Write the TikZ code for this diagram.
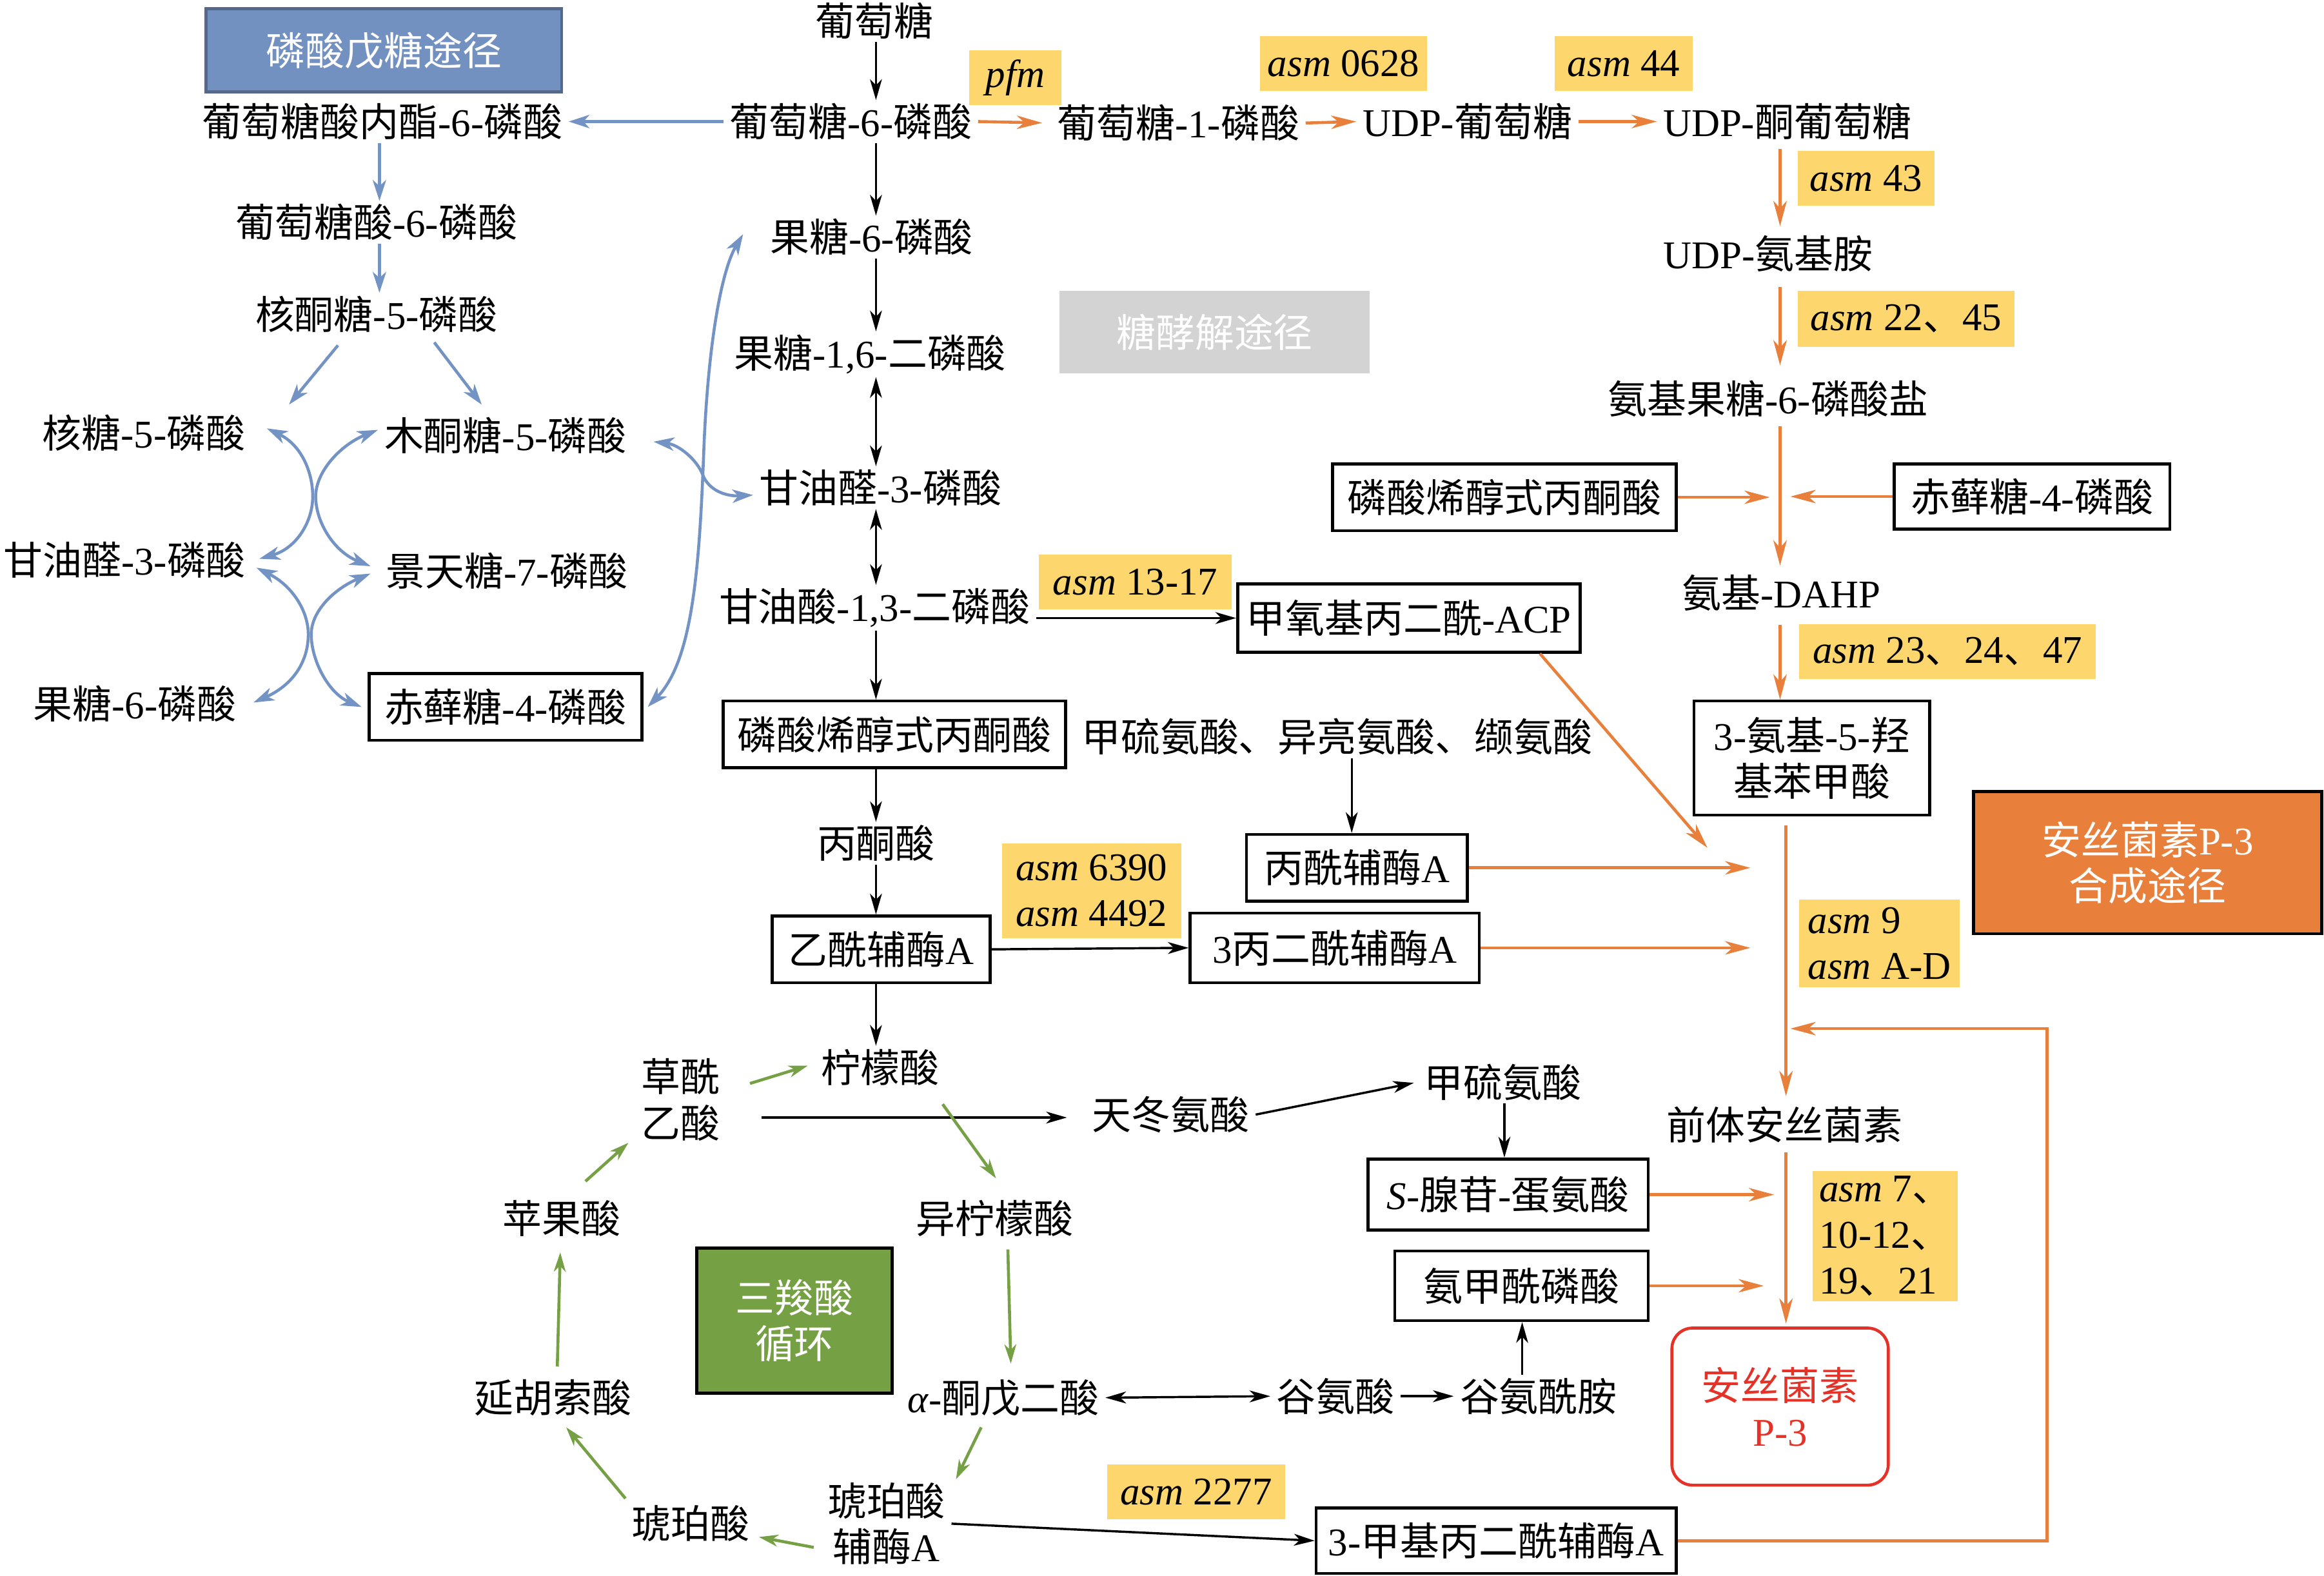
\documentclass[tikz,border=0pt]{standalone}
\usepackage{fontspec}
\setmainfont{Liberation Serif}
\newfontfamily\cjkfont{Noto Sans CJK SC}
\usetikzlibrary{arrows.meta,calc}
\newcount\cjkcnt
\XeTeXinterchartokenstate=1
\newXeTeXintercharclass\CJKcls
\cjkcnt="3000
\loop\XeTeXcharclass\cjkcnt=\CJKcls\relax\ifnum\cjkcnt<"303F\advance\cjkcnt by 1\repeat
\cjkcnt="4E00
\loop\XeTeXcharclass\cjkcnt=\CJKcls\relax\ifnum\cjkcnt<"9FFF\advance\cjkcnt by 1\repeat
\cjkcnt="FF00
\loop\XeTeXcharclass\cjkcnt=\CJKcls\relax\ifnum\cjkcnt<"FFEF\advance\cjkcnt by 1\repeat
\XeTeXinterchartoks 0 \CJKcls = {\cjkfont}
\XeTeXinterchartoks 4095 \CJKcls = {\cjkfont}
\XeTeXinterchartoks \CJKcls 0 = {\rmfamily}
\XeTeXinterchartoks \CJKcls 4095 = {\rmfamily}
\definecolor{bluC}{HTML}{7393C4}
\definecolor{bluF}{HTML}{7391C0}
\definecolor{bluD}{HTML}{56688A}
\definecolor{orgC}{HTML}{E8803C}
\definecolor{labY}{HTML}{FDD66E}
\definecolor{grnC}{HTML}{76A044}
\definecolor{grayF}{HTML}{D3D3D3}
\definecolor{redC}{HTML}{E53228}
\begin{document}
\begin{tikzpicture}[x=1pt,y=-1pt,
  every node/.style={font=\fontsize{26.5}{31}\selectfont},
  txt/.style={inner xsep=4pt,inner ysep=2pt},
  bx/.style={draw,line width=2pt,inner sep=0pt},
  lab/.style={fill=labY,inner sep=0pt},
  ttl/.style={inner sep=0pt,text=white},
  ba/.style={->,>={Stealth[length=14pt,width=8pt,inset=4pt]},line width=1.5pt},
  bda/.style={<->,>={Stealth[length=14pt,width=8pt,inset=4pt]},line width=1.5pt},
  oa/.style={->,>={Stealth[length=17pt,width=9pt,inset=5pt]},line width=2pt,draw=orgC},
  bla/.style={->,>={Stealth[length=14pt,width=9pt,inset=4pt]},line width=2pt,draw=bluC},
  blda/.style={<->,>={Stealth[length=14pt,width=9pt,inset=4pt]},line width=2pt,draw=bluC},
  ga/.style={->,>={Stealth[length=13pt,width=8pt,inset=4pt]},line width=2pt,draw=grnC}
]
\fill[white] (0,0) rectangle (1568,1063);
\useasboundingbox (0,0) rectangle (1568,1063);

% ---------- pentose phosphate ----------
\node[ttl,fill=bluF,draw=bluD,line width=2pt,minimum width=240pt,minimum height=56pt] (ppp) at (259,34) {磷酸戊糖途径};
\node[txt] (glno) at (258,82) {葡萄糖酸内酯-6-磷酸};
\node[txt] (gln6p) at (254,150) {葡萄糖酸-6-磷酸};
\node[txt] (ru5p) at (254,212) {核酮糖-5-磷酸};
\node[txt] (r5p) at (97,292) {核糖-5-磷酸};
\node[txt] (xu5p) at (341,294) {木酮糖-5-磷酸};
\node[txt] (g3pL) at (84,378) {甘油醛-3-磷酸};
\node[txt] (s7p) at (342,385) {景天糖-7-磷酸};
\node[txt] (f6pL) at (91,475) {果糖-6-磷酸};
\node[bx,minimum width=184pt,minimum height=45pt] (e4pL) at (341,477) {赤藓糖-4-磷酸};

% ---------- glycolysis ----------
\node[txt] (glc) at (590,14) {葡萄糖};
\node[txt] (g6p) at (574,82) {葡萄糖-6-磷酸};
\node[txt] (f6p) at (588,160) {果糖-6-磷酸};
\node[txt] (fbp) at (587,239) {果糖-1,6-二磷酸};
\node[txt] (g3p) at (594,329) {甘油醛-3-磷酸};
\node[txt] (bpg) at (590,410) {甘油酸-1,3-二磷酸};
\node[bx,minimum width=231pt,minimum height=45pt] (pepC) at (603.5,495.5) {磷酸烯醇式丙酮酸};
\node[txt] (pyr) at (591,569) {丙酮酸};
\node[bx,minimum width=147pt,minimum height=45pt] (accoa) at (594.5,640.5) {乙酰辅酶A};
\node[ttl,fill=grayF,minimum width=209pt,minimum height=56pt] (glyc) at (819.5,224) {糖酵解途径};

% ---------- middle ----------
\node[bx,minimum width=231pt,minimum height=46pt] (mmacp) at (950.5,417) {甲氧基丙二酰-ACP};
\node[txt] (aa) at (902,497) {甲硫氨酸、异亮氨酸、缬氨酸};
\node[bx,minimum width=149pt,minimum height=45pt] (prcoa) at (915.5,585.5) {丙酰辅酶A};
\node[bx,minimum width=195pt,minimum height=47pt] (malcoa) at (900.5,639.5) {3丙二酰辅酶A};

% ---------- TCA ----------
\node[txt] (cit) at (594,720) {柠檬酸};
\node[txt,align=center] (oaa) at (459,742) {草酰\\乙酸};
\node[txt] (asp) at (790,752) {天冬氨酸};
\node[txt] (met) at (1014,730) {甲硫氨酸};
\node[txt] (icit) at (671,822) {异柠檬酸};
\node[txt] (akg) at (677,943) {\textit{α}-酮戊二酸};
\node[txt] (glu) at (901,942) {谷氨酸};
\node[txt] (gln) at (1038,942) {谷氨酰胺};
\node[txt,align=center] (sucoa) at (598,1028) {琥珀酸\\辅酶A};
\node[txt] (suc) at (466,1028) {琥珀酸};
\node[txt] (fum) at (373,943) {延胡索酸};
\node[txt] (mal) at (379,822) {苹果酸};
\node[ttl,fill=grnC,draw=black,line width=2pt,minimum width=132pt,minimum height=98pt,align=center] (tca) at (536,891) {三羧酸\\循环};
\node[bx,minimum width=189pt,minimum height=48pt] (sam) at (1017.5,806) {\textit{S}-腺苷-蛋氨酸};
\node[bx,minimum width=171pt,minimum height=47pt] (cp) at (1026.5,867.5) {氨甲酰磷酸};
\node[bx,minimum width=243pt,minimum height=44pt] (mmcoa) at (1009.5,1039.5) {3-甲基丙二酰辅酶A};

% ---------- right ----------
\node[txt] (g1p) at (795,83) {葡萄糖-1-磷酸};
\node[txt] (udpg) at (990,82) {UDP-葡萄糖};
\node[txt] (udpkg) at (1206,82) {UDP-酮葡萄糖};
\node[txt] (udpa) at (1193,171) {UDP-氨基胺};
\node[txt] (af6p) at (1193,269) {氨基果糖-6-磷酸盐};
\node[bx,minimum width=232pt,minimum height=45pt] (pepR) at (1015,335.5) {磷酸烯醇式丙酮酸};
\node[bx,minimum width=186pt,minimum height=44pt] (e4pR) at (1371,335) {赤藓糖-4-磷酸};
\node[txt] (dahp) at (1202,400) {氨基-DAHP};
\node[bx,minimum width=159pt,minimum height=77pt,align=center] (ahba) at (1222.5,511.5) {3-氨基-5-羟\\基苯甲酸};
\node[ttl,fill=orgC,draw=black,line width=2pt,minimum width=235pt,minimum height=96pt,align=center] (ansp) at (1449,582) {安丝菌素P-3\\合成途径};
\node[txt] (pre) at (1204,759) {前体安丝菌素};
\node[draw=redC,line width=2pt,rounded corners=14pt,text=redC,minimum width=146pt,minimum height=106pt,align=center,inner sep=0pt] (final) at (1201,949) {安丝菌素\\P-3};

% ---------- gene labels ----------
\node[lab,minimum width=62pt,minimum height=37pt] (L1) at (685,52.5) {\textit{pfm}};
\node[lab,minimum width=113pt,minimum height=37pt] (L2) at (906.5,43) {\textit{asm} 0628};
\node[lab,minimum width=93pt,minimum height=37pt] (L3) at (1095.5,43) {\textit{asm} 44};
\node[lab,minimum width=92pt,minimum height=37pt] (L4) at (1259,120.5) {\textit{asm} 43};
\node[lab,minimum width=146pt,minimum height=38pt] (L5) at (1286,215) {\textit{asm} 22、45};
\node[lab,minimum width=130pt,minimum height=37pt] (L6) at (766,392.5) {\textit{asm} 13-17};
\node[lab,minimum width=121pt,minimum height=64pt,align=center] (L7) at (736.5,601) {\textit{asm} 6390\\\textit{asm} 4492};
\node[lab,minimum width=200pt,minimum height=37pt] (L8) at (1314,439.5) {\textit{asm} 23、24、47};
\node[lab,minimum width=108pt,minimum height=59pt,align=left] (L9) at (1268,636.5) {\textit{asm} 9\\\textit{asm} A-D};
\node[lab,minimum width=120pt,minimum height=37pt] (L10) at (807,1006.5) {\textit{asm} 2277};
\node[lab,minimum width=98pt,minimum height=88pt,align=left] (L11) at (1272,834) {\textit{asm} 7、\\10-12、\\19、21};

% ---------- helper coordinates ----------
\coordinate (gx) at (591,0);
\coordinate (bcol) at (256,0);
\coordinate (ox1) at (1201,0);
\coordinate (ox2) at (1205,0);
\coordinate (ax) at (912,0);
\coordinate (sx) at (1015,0);
\coordinate (cpx) at (1027,0);
\coordinate (c1) at (1152,572);
\coordinate (c2) at (1181,585.5);
\coordinate (c3) at (1181,639.5);
\coordinate (c4) at (1197,806);
\coordinate (c5) at (1190,867.5);
\coordinate (fbc) at (1381,694);
\coordinate (fbe) at (1208,694);

% ---------- black arrows ----------
\draw[ba] (glc.south -| gx) -- (g6p.north -| gx);
\draw[ba] (g6p.south -| gx) -- (f6p.north -| gx);
\draw[ba] (f6p.south -| gx) -- (fbp.north -| gx);
\draw[bda] (fbp.south -| gx) -- (g3p.north -| gx);
\draw[bda] (g3p.south -| gx) -- (bpg.north -| gx);
\draw[ba] (bpg.south -| gx) -- (pepC.north -| gx);
\draw[ba] (pepC.south -| gx) -- (pyr.north -| gx);
\draw[ba] (pyr.south -| gx) -- (accoa.north -| gx);
\draw[ba] (accoa.south -| gx) -- (cit.north -| gx);
\draw[ba] (mmacp.west -| bpg.east) -- (mmacp.west);
\draw[ba] (accoa.east) -- (malcoa.west);
\draw[ba] (aa.south -| ax) -- (prcoa.north -| ax);
\draw[ba] ($(oaa.east)+(24,12)$) -- ($(asp.west)+(-13,2)$);
\draw[ba,shorten >=3pt] (asp.east) -- (met.west);
\draw[ba] (met.south -| sx) -- (sam.north -| sx);
\draw[bda] (akg.east) -- (glu.west);
\draw[ba] (glu.east) -- (gln.west);
\draw[ba] (gln.north -| cpx) -- (cp.south -| cpx);
\draw[ba] (sucoa.east) -- (mmcoa.west);

% ---------- orange arrows ----------
\draw[oa,shorten >=6pt] (g6p.east) -- (g1p.west);
\draw[oa] (g1p.east) -- (udpg.west);
\draw[oa] (udpg.east) -- (udpkg.west);
\draw[oa,shorten <=4pt,shorten >=4pt] (udpkg.south -| ox1) -- (udpa.north -| ox1);
\draw[oa,shorten <=8pt,shorten >=8pt] (udpa.south -| ox1) -- (af6p.north -| ox1);
\draw[oa,shorten <=4pt,shorten >=4pt] (af6p.south -| ox1) -- (dahp.north -| ox1);
\draw[oa] (pepR.east) -- ($(pepR.east -| ox1)+(-7,0)$);
\draw[oa] (e4pR.west) -- ($(e4pR.west -| ox1)+(7,0)$);
\draw[oa,shorten <=7pt] (dahp.south -| ox1) -- (ahba.north -| ox1);
\draw[oa,shorten <=6pt,shorten >=5pt] (ahba.south -| ox2) -- (pre.north -| ox2);
\draw[oa] ($(mmacp.south east)+(-28,0)$) -- (c1);
\draw[oa] (prcoa.east) -- (c2);
\draw[oa] (malcoa.east) -- (c3);
\draw[oa] (mmcoa.east) -| (fbc) -- (fbe);
\draw[oa,shorten <=4pt,shorten >=2pt] (pre.south -| ox2) -- (final.north -| ox2);
\draw[oa] (sam.east) -- (c4);
\draw[oa] (cp.east) -- (c5);

% ---------- blue arrows ----------
\draw[bla] (g6p.west) -- (glno.east);
\draw[bla] (glno.south -| bcol) -- (gln6p.north -| bcol);
\draw[bla] (gln6p.south -| bcol) -- (ru5p.north -| bcol);
\draw[bla] ($(ru5p)+(-26,21)$) -- ($(r5p)+(98,-19)$);
\draw[bla] ($(ru5p)+(39,19)$) -- ($(xu5p)+(-16,-21)$);
\draw[blda] ($(r5p)+(83,-3)$) .. controls (203,300) and (211,318) .. (211,335) .. controls (211,352) and (200,370) .. ($(g3pL)+(91,-1)$);
\draw[blda] ($(xu5p)+(-86,-4)$) .. controls (230,300) and (213,318) .. (213,335) .. controls (213,352) and (225,372) .. ($(s7p)+(-92,-3)$);
\draw[blda] ($(g3pL)+(89,5)$) .. controls (197,395) and (208,412) .. (208,428) .. controls (208,446) and (198,462) .. ($(f6pL)+(80,-1)$);
\draw[blda] ($(s7p)+(-92,2)$) .. controls (226,397) and (210,412) .. (210,428) .. controls (210,446) and (222,468) .. ($(e4pL.west)+(-4,0)$);
\draw[blda] ($(f6p.west)+(-14,-2)$) .. controls (487,182) and (478,230) .. (475,300) .. controls (472,380) and (468,445) .. ($(e4pL.east)+(3,0)$);
\draw[blda] ($(xu5p.east)+(14,4)$) .. controls (458,300) and (470,310) .. (474,320) .. controls (478,331) and (490,335) .. ($(g3p.west)+(0,5)$);

% ---------- green arrows ----------
\draw[ga] ($(oaa)+(47,-11)$) -- ($(cit)+(-49,-1)$);
\draw[ga] ($(cit)+(42,25)$) -- ($(icit)+(1,-27)$);
\draw[ga] ($(icit)+(9,21)$) -- ($(akg)+(5,-23)$);
\draw[ga] ($(akg)+(-15,20)$) -- ($(sucoa)+(47,-30)$);
\draw[ga] ($(sucoa)+(-49,16)$) -- ($(suc)+(46,9)$);
\draw[ga] ($(suc)+(-44,-17)$) -- ($(fum)+(9,20)$);
\draw[ga] ($(fum)+(3,-21)$) -- ($(mal)+(-1,23)$);
\draw[ga] ($(mal)+(16,-25)$) -- ($(oaa)+(-35,29)$);
\end{tikzpicture}
\end{document}
